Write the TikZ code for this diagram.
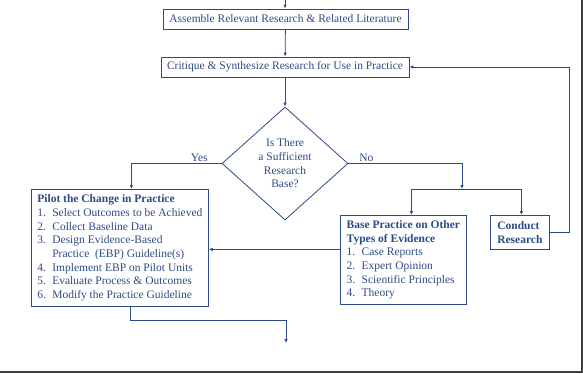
\documentclass[tikz,border=0pt]{standalone}
\usepackage{fontspec}
\setmainfont{Liberation Serif}
\usetikzlibrary{shapes.geometric,arrows.meta}
\definecolor{ebpblue}{RGB}{44,74,132}
\newcommand{\ebpitem}[1]{\makebox[15pt][l]{#1}}

\begin{document}
\begin{tikzpicture}[x=1pt, y=-1pt, >={Latex[length=4pt,width=3.5pt]},
        every node/.style={font=\fontsize{11.5}{13.7}\selectfont, text=ebpblue},
        box/.style={draw=ebpblue, line width=0.8pt, inner sep=0pt},
        link/.style={draw=ebpblue, line width=0.8pt, ->}]
        \useasboundingbox (0,0) rectangle (583,373);
        \draw[black!75, line width=1.6pt] (0,372.2) -- (582.2,372.2) -- (582.2,0);

        \node[box, minimum width=245pt, minimum height=20pt] (assemble) at (285.5,19) {Assemble Relevant Research \& Related Literature};
        \node[box, minimum width=248pt, minimum height=20pt] (critique) at (285,67) {Critique \& Synthesize Research for Use in Practice};
        \node[box, shape=diamond, aspect=1.12, minimum width=126pt, minimum height=113pt, align=center] (decide) at (285,163.5) {Is There\\a Sufficient\\Research\\Base?};

        \node[box, anchor=north west, minimum width=177pt, minimum height=117pt, align=left] (pilot) at (31,189) {\textbf{Pilot the Change in Practice}\\
            \ebpitem{1.}Select Outcomes to be Achieved\\
            \ebpitem{2.}Collect Baseline Data\\
            \ebpitem{3.}Design Evidence-Based\\
            \ebpitem{}Practice \ (EBP) Guideline(s)\\
            \ebpitem{4.}Implement EBP on Pilot Units\\
            \ebpitem{5.}Evaluate Process \& Outcomes\\
            \ebpitem{6.}Modify the Practice Guideline};
        \node[box, anchor=north west, minimum width=126pt, minimum height=89pt, align=left] (base) at (340,215) {\textbf{Base Practice on Other}\\
            \textbf{Types of Evidence}\\
            \ebpitem{1.}Case Reports\\
            \ebpitem{2.}Expert Opinion\\
            \ebpitem{3.}Scientific Principles\\
            \ebpitem{4.}Theory};
        \node[box, anchor=north west, minimum width=59pt, minimum height=34pt, align=left, font=\fontsize{11.5}{13.7}\selectfont\bfseries] (conduct) at (490,215) {Conduct\\Research};

        \coordinate (entry) at (285,0);
        \coordinate (split) at (462,189);
        \coordinate (exit) at (286,343);

        \draw[link] (entry) -- (entry |- assemble.north);
        \draw[link] (assemble) -- (critique);
        \draw[link] (critique) -- (decide);
        \draw[link] (decide.west) -| node[pos=0.124, above, inner sep=1pt] (yes) {Yes} ([xshift=11.5pt]pilot.north);
        \draw[link] (decide.east) -| node[pos=0.079, above, inner sep=1pt] (no) {No} (split);
        \draw[link] (split) -| ([xshift=8pt]base.north);
        \draw[link] (split) -| ([xshift=1.5pt]conduct.north);
        \draw[link] (conduct.east) -- ++(20pt,0) |- (critique.east);
        \draw[link] ([yshift=10.5pt]base.west) -- ([yshift=10.5pt]base.west -| pilot.east);
        \draw[link] ([xshift=10.5pt]pilot.south) -- ++(0,-14pt) -| (exit);
    \end{tikzpicture}
\end{document}
